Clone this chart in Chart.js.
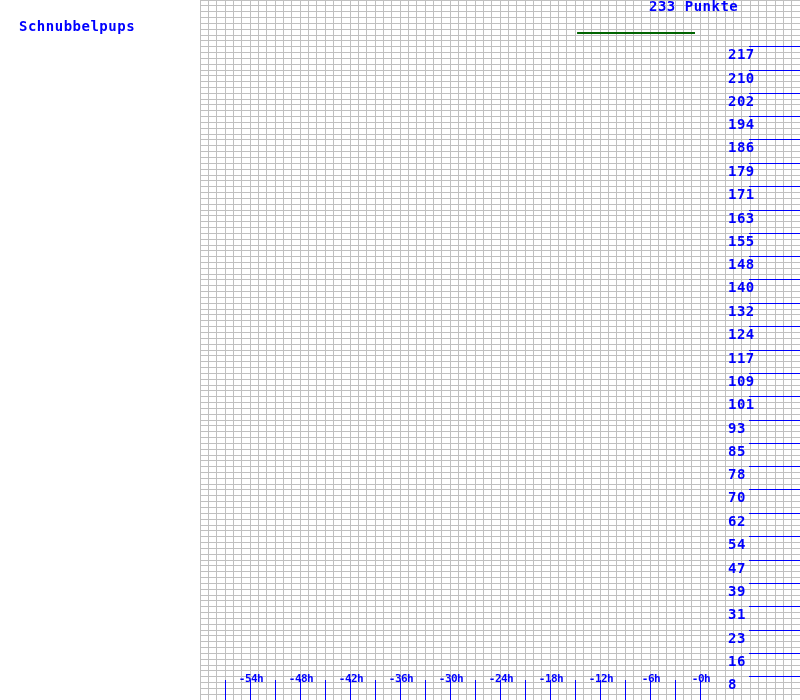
<!DOCTYPE html>
<html>
<head>
<meta charset="utf-8">
<script src="https://cdn.jsdelivr.net/npm/chart.js@4/dist/chart.umd.min.js"></script>
<style>
html,body{margin:0;padding:0;background:#fff;}
canvas{display:block;}
</style>
</head>
<body>
<canvas id="c" width="800" height="700"></canvas>
<script>
// ---- data ----
const playerName = 'Schnubbelpups';
const titleText = '233 Punkte';
const hours = [-14.75, -0.6];
const points = [222, 222];
const yMax = 233;
const yTickLabels = ['8','16','23','31','39','47','54','62','70','78','85','93','101','109','117','124','132','140','148','155','163','171','179','186','194','202','210','217'];
const xTickHours = [-57,-54,-51,-48,-45,-42,-39,-36,-33,-30,-27,-24,-21,-18,-15,-12,-9,-6,-3,0];
const xLabelHours = [-54,-48,-42,-36,-30,-24,-18,-12,-6,0];
const xLabels = ['-54h','-48h','-42h','-36h','-30h','-24h','-18h','-12h','-6h','-0h'];
const xMin = -60, xMax = 12;

const BLUE = '#0000ff';
const GRID = '#c0c0c0';

const overlay = {
  id: 'overlay',
  afterDatasetsDraw(chart) {
    const ctx = chart.ctx;
    const xs = chart.scales.x, ys = chart.scales.y;
    const area = chart.chartArea;
    ctx.save();
    ctx.fillStyle = BLUE;
    ctx.font = 'bold 14px "DejaVu Sans Mono", monospace';
    try { ctx.letterSpacing = '0.5px'; } catch (e) {}
    ctx.textBaseline = 'alphabetic';
    ctx.textAlign = 'left';
    ctx.fillText(playerName, 19, 31);
    ctx.fillText(titleText, 649, 11);
    // y labels with lines
    const step = yMax / 30;
    yTickLabels.forEach((lab, i) => {
      const py = Math.round(ys.getPixelForValue((i + 1) * step) - 0.5);
      ctx.fillRect(749, py, area.right - 749, 1);
      ctx.fillText(lab, 728, py + 13);
    });
    // x tick marks
    xTickHours.forEach(h => {
      const px = Math.round(xs.getPixelForValue(h) - 0.5);
      ctx.fillRect(px, 680, 1, area.bottom - 680);
    });
    ctx.font = 'bold 11px "DejaVu Sans Mono", monospace';
    try { ctx.letterSpacing = '-0.5px'; } catch (e) {}
    ctx.textAlign = 'center';
    xLabelHours.forEach((h, i) => {
      const px = xs.getPixelForValue(h);
      ctx.fillText(xLabels[i], px + 1, 682);
    });
    ctx.restore();
  }
};

new Chart(document.getElementById('c'), {
  type: 'line',
  data: {
    datasets: [{
      data: hours.map((h, i) => ({x: h, y: points[i]})),
      borderColor: '#006400',
      borderWidth: 2,
      pointRadius: 0,
      fill: false,
      tension: 0
    }]
  },
  options: {
    responsive: false,
    animation: false,
    layout: {padding: {left: 200, right: 0, top: 0, bottom: 0}},
    plugins: {legend: {display: false}, tooltip: {enabled: false}, title: {display: false}},
    scales: {
      x: {
        type: 'linear', min: xMin, max: xMax,
        ticks: {display: false, stepSize: 1},
        grid: {color: GRID, lineWidth: 1, drawTicks: false},
        border: {display: false},
        afterFit: s => { s.height = 0; },
        afterBuildTicks: s => { s.ticks = []; for (let h = xMin; h <= xMax; h++) s.ticks.push({value: h}); }
      },
      y: {
        type: 'linear', min: 0, max: yMax,
        ticks: {display: false},
        grid: {color: GRID, lineWidth: 1, drawTicks: false},
        border: {display: false},
        afterFit: s => { s.width = 0; },
        afterBuildTicks: s => { s.ticks = []; for (let k = 0; k <= 120; k++) s.ticks.push({value: k * yMax / 120}); }
      }
    }
  },
  plugins: [overlay]
});
</script>
</body>
</html>
